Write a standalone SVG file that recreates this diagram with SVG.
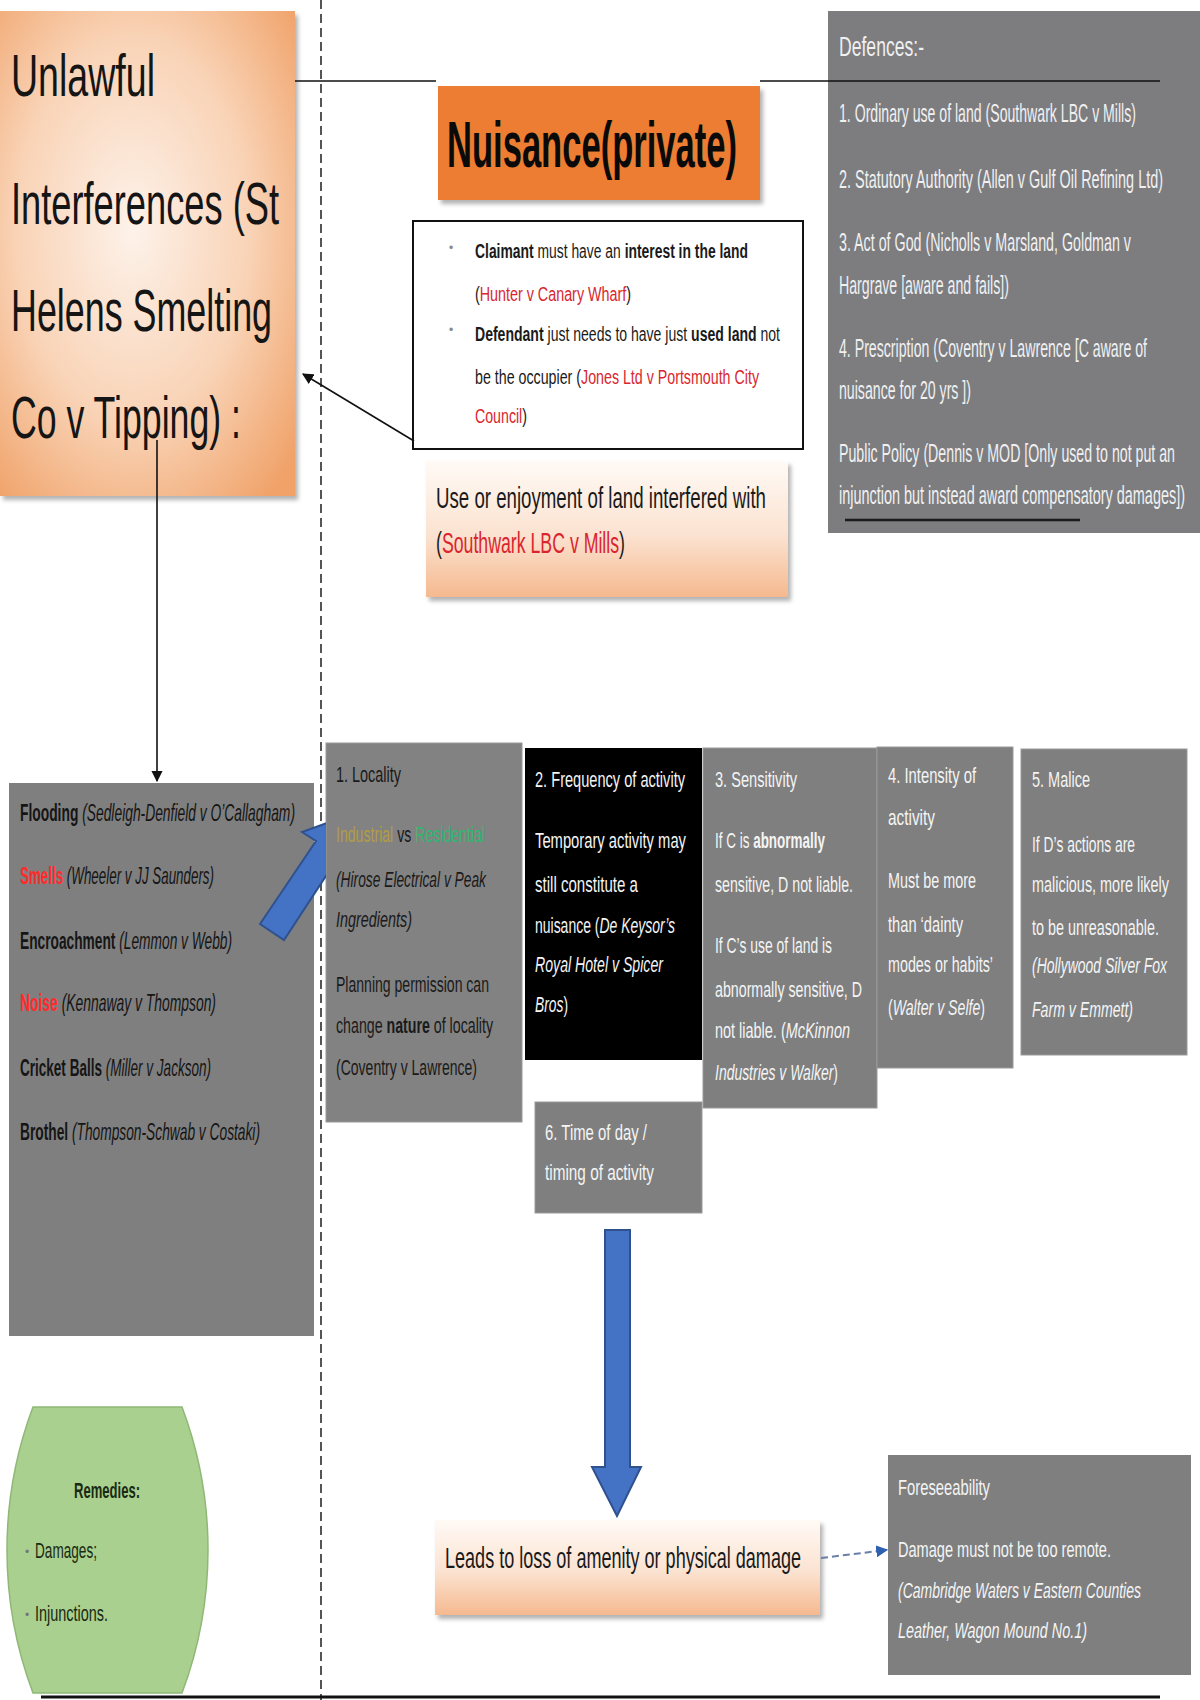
<svg xmlns="http://www.w3.org/2000/svg" width="1200" height="1700" viewBox="0 0 1200 1700">
<style>
text{font-family:"Liberation Sans",Arial,sans-serif;}
.big{font-size:60px;fill:#151515;}
.nui{font-size:64px;font-weight:bold;fill:#0a0a0a;}
.wb{font-size:20px;fill:#1a1a1a;}
.use{font-size:30px;fill:#1a1a1a;}
.def{font-size:26px;fill:#f0f0f0;}
.list{font-size:24px;fill:#151515;}
.dk{font-size:22px;fill:#1a1a1a;}
.wt{font-size:22px;fill:#f4f4f4;}
.rem{font-size:22px;fill:#1a2a12;}
.b{font-weight:bold;}
.i{font-style:italic;}
.red{fill:#d9262e;}
.rd2{fill:#ff2b2b;}
.gray{fill:#7f7f7f;}
.conn{stroke:#111;stroke-width:1.6;fill:none;}
</style>
<defs>
<radialGradient id="gUnl" cx="45%" cy="45%" r="72%">
<stop offset="0" stop-color="#fdf2ea"/>
<stop offset="0.55" stop-color="#f9d3b6"/>
<stop offset="1" stop-color="#f0a269"/>
</radialGradient>
<linearGradient id="gPeach" x1="0" y1="0" x2="0" y2="1">
<stop offset="0" stop-color="#fffaf6"/>
<stop offset="0.55" stop-color="#fbe2d0"/>
<stop offset="1" stop-color="#f5b98f"/>
</linearGradient>
<filter id="sh" x="-5%" y="-5%" width="115%" height="120%">
<feDropShadow dx="3" dy="4" stdDeviation="2" flood-color="#000" flood-opacity="0.3"/>
</filter>
<marker id="ah" viewBox="0 0 10 10" refX="9" refY="5" markerWidth="7" markerHeight="7" orient="auto">
<path d="M0,0 L10,5 L0,10 z" fill="#111"/>
</marker>
<marker id="ahb" viewBox="0 0 10 10" refX="9" refY="5" markerWidth="6" markerHeight="6" orient="auto">
<path d="M0,0 L10,5 L0,10 z" fill="#2f5fb0"/>
</marker>
<clipPath id="leftOfLoc"><rect x="0" y="700" width="326" height="300"/></clipPath>
</defs>
<rect width="1200" height="1700" fill="#ffffff"/>

<g id="unlawful">
<rect x="0" y="11" width="295" height="485" fill="url(#gUnl)" filter="url(#sh)"/>
<text class="big" x="11" y="96" textLength="144" lengthAdjust="spacingAndGlyphs">Unlawful</text>
<text class="big" x="11" y="224" textLength="268" lengthAdjust="spacingAndGlyphs">Interferences (St</text>
<text class="big" x="11" y="331" textLength="261" lengthAdjust="spacingAndGlyphs">Helens Smelting</text>
<text class="big" x="11" y="438" textLength="230" lengthAdjust="spacingAndGlyphs">Co v Tipping) :</text>
</g>

<g id="nuisance">
<rect x="438" y="86" width="322" height="114" fill="#ed7d31" filter="url(#sh)"/>
<text class="nui" x="447" y="167" textLength="290" lengthAdjust="spacingAndGlyphs">Nuisance(private)</text>
</g>

<g id="requirements">
<rect x="413" y="221" width="390" height="228" fill="#ffffff" stroke="#111" stroke-width="2"/>
<text class="wb" x="449" y="252" style="font-size:12px;fill:#888">•</text>
<text class="wb" x="449" y="334" style="font-size:12px;fill:#888">•</text>
<text class="wb" x="475" y="258" textLength="273" lengthAdjust="spacingAndGlyphs"><tspan class="b">Claimant</tspan> must have an <tspan class="b">interest in the land</tspan></text>
<text class="wb" x="475" y="301" textLength="156" lengthAdjust="spacingAndGlyphs">(<tspan class="red">Hunter v Canary Wharf</tspan>)</text>
<text class="wb" x="475" y="341" textLength="305" lengthAdjust="spacingAndGlyphs"><tspan class="b">Defendant</tspan> just needs to have just <tspan class="b">used land</tspan> not</text>
<text class="wb" x="475" y="384" textLength="284" lengthAdjust="spacingAndGlyphs">be the occupier (<tspan class="red">Jones Ltd v Portsmouth City</tspan></text>
<text class="wb" x="475" y="423" textLength="52" lengthAdjust="spacingAndGlyphs"><tspan class="red">Council</tspan>)</text>
</g>

<g id="use-enjoyment">
<rect x="426" y="461" width="362" height="136" fill="url(#gPeach)" filter="url(#sh)"/>
<text class="use" x="436" y="508" textLength="330" lengthAdjust="spacingAndGlyphs">Use or enjoyment of land interfered with</text>
<text class="use" x="436" y="553" textLength="189" lengthAdjust="spacingAndGlyphs">(<tspan class="red">Southwark LBC v Mills</tspan>)</text>
</g>

<g id="defences">
<rect x="828" y="11" width="372" height="522" fill="#7d7d80"/>
<text class="def" x="839" y="56" style="font-size:28px" textLength="85" lengthAdjust="spacingAndGlyphs">Defences:-</text>
<text class="def" x="839" y="122" textLength="297" lengthAdjust="spacingAndGlyphs">1. Ordinary use of land (Southwark LBC v Mills)</text>
<text class="def" x="839" y="188" textLength="324" lengthAdjust="spacingAndGlyphs">2. Statutory Authority (Allen v Gulf Oil Refining Ltd)</text>
<text class="def" x="839" y="251" textLength="292" lengthAdjust="spacingAndGlyphs">3. Act of God (Nicholls v Marsland, Goldman v</text>
<text class="def" x="839" y="294" textLength="170" lengthAdjust="spacingAndGlyphs">Hargrave [aware and fails])</text>
<text class="def" x="839" y="357" textLength="308" lengthAdjust="spacingAndGlyphs">4. Prescription (Coventry v Lawrence [C aware of</text>
<text class="def" x="839" y="399" textLength="132" lengthAdjust="spacingAndGlyphs">nuisance for 20 yrs ])</text>
<text class="def" x="839" y="462" textLength="336" lengthAdjust="spacingAndGlyphs">Public Policy (Dennis v MOD [Only used to not put an</text>
<text class="def" x="839" y="504" textLength="346" lengthAdjust="spacingAndGlyphs">injunction but instead award compensatory damages])</text>
<line x1="845" y1="520" x2="1080" y2="520" stroke="#1a1a1a" stroke-width="2.5"/>
</g>

<g id="interferences-list">
<rect x="9" y="783" width="305" height="553" fill="#7f7f7f"/>
<text class="list" x="20" y="821" textLength="275" lengthAdjust="spacingAndGlyphs"><tspan class="b">Flooding</tspan> <tspan class="i">(Sedleigh-Denfield v O’Callagham)</tspan></text>
<text class="list" x="20" y="884" textLength="194" lengthAdjust="spacingAndGlyphs"><tspan class="b rd2">Smells</tspan> <tspan class="i">(Wheeler v JJ Saunders)</tspan></text>
<text class="list" x="20" y="949" textLength="212" lengthAdjust="spacingAndGlyphs"><tspan class="b">Encroachment</tspan> <tspan class="i">(Lemmon v Webb)</tspan></text>
<text class="list" x="20" y="1011" textLength="196" lengthAdjust="spacingAndGlyphs"><tspan class="b rd2">Noise</tspan> <tspan class="i">(Kennaway v Thompson)</tspan></text>
<text class="list" x="20" y="1076" textLength="191" lengthAdjust="spacingAndGlyphs"><tspan class="b">Cricket Balls</tspan> <tspan class="i">(Miller v Jackson)</tspan></text>
<text class="list" x="20" y="1140" textLength="240" lengthAdjust="spacingAndGlyphs"><tspan class="b">Brothel</tspan> <tspan class="i">(Thompson-Schwab v Costaki)</tspan></text>
</g>

<g id="locality">
<rect x="326" y="743" width="196" height="379" fill="#828282" stroke="#9a9a9a" stroke-width="1"/>
<text class="dk" x="336" y="782" textLength="65" lengthAdjust="spacingAndGlyphs">1. Locality</text>
<text class="dk" x="336" y="842" textLength="149" lengthAdjust="spacingAndGlyphs"><tspan style="fill:#b29d45">Industrial</tspan> vs <tspan style="fill:#2fb872">Residential</tspan></text>
<text class="dk i" x="336" y="887" textLength="150" lengthAdjust="spacingAndGlyphs">(Hirose Electrical v Peak</text>
<text class="dk i" x="336" y="927" textLength="76" lengthAdjust="spacingAndGlyphs">Ingredients)</text>
<text class="dk" x="336" y="992" textLength="153" lengthAdjust="spacingAndGlyphs">Planning permission can</text>
<text class="dk" x="336" y="1033" textLength="157" lengthAdjust="spacingAndGlyphs">change <tspan class="b">nature</tspan> of locality</text>
<text class="dk" x="336" y="1075" textLength="141" lengthAdjust="spacingAndGlyphs">(Coventry v Lawrence)</text>
</g>

<g id="frequency">
<rect x="525" y="748" width="177" height="312" fill="#000000"/>
<text class="wt" x="535" y="787" textLength="150" lengthAdjust="spacingAndGlyphs">2. Frequency of activity</text>
<text class="wt" x="535" y="848" textLength="151" lengthAdjust="spacingAndGlyphs">Temporary activity may</text>
<text class="wt" x="535" y="892" textLength="103" lengthAdjust="spacingAndGlyphs">still constitute a</text>
<text class="wt" x="535" y="933" textLength="140" lengthAdjust="spacingAndGlyphs">nuisance (<tspan class="i">De Keysor’s</tspan></text>
<text class="wt i" x="535" y="972" textLength="128" lengthAdjust="spacingAndGlyphs">Royal Hotel v Spicer</text>
<text class="wt" x="535" y="1012" textLength="33" lengthAdjust="spacingAndGlyphs"><tspan class="i">Bros</tspan>)</text>
</g>

<g id="time-of-day">
<rect x="535" y="1102" width="167" height="111" fill="#7f7f7f" stroke="#9a9a9a" stroke-width="1"/>
<text class="wt" x="545" y="1140" textLength="102" lengthAdjust="spacingAndGlyphs">6. Time of day /</text>
<text class="wt" x="545" y="1180" textLength="109" lengthAdjust="spacingAndGlyphs">timing of activity</text>
</g>

<g id="sensitivity">
<rect x="703" y="748" width="174" height="360" fill="#7f7f7f" stroke="#9a9a9a" stroke-width="1"/>
<text class="wt" x="715" y="787" textLength="82" lengthAdjust="spacingAndGlyphs">3. Sensitivity</text>
<text class="wt" x="715" y="848" textLength="110" lengthAdjust="spacingAndGlyphs">If C is <tspan class="b">abnormally</tspan></text>
<text class="wt" x="715" y="892" textLength="138" lengthAdjust="spacingAndGlyphs">sensitive, D not liable.</text>
<text class="wt" x="715" y="953" textLength="117" lengthAdjust="spacingAndGlyphs">If C’s use of land is</text>
<text class="wt" x="715" y="997" textLength="147" lengthAdjust="spacingAndGlyphs">abnormally sensitive, D</text>
<text class="wt" x="715" y="1038" textLength="135" lengthAdjust="spacingAndGlyphs">not liable. (<tspan class="i">McKinnon</tspan></text>
<text class="wt" x="715" y="1080" textLength="123" lengthAdjust="spacingAndGlyphs"><tspan class="i">Industries v Walker</tspan>)</text>
</g>

<g id="intensity">
<rect x="877" y="747" width="136" height="321" fill="#7f7f7f" stroke="#9a9a9a" stroke-width="1"/>
<text class="wt" x="888" y="783" textLength="88" lengthAdjust="spacingAndGlyphs">4. Intensity of</text>
<text class="wt" x="888" y="825" textLength="47" lengthAdjust="spacingAndGlyphs">activity</text>
<text class="wt" x="888" y="888" textLength="88" lengthAdjust="spacingAndGlyphs">Must be more</text>
<text class="wt" x="888" y="932" textLength="75" lengthAdjust="spacingAndGlyphs">than ‘dainty</text>
<text class="wt" x="888" y="972" textLength="105" lengthAdjust="spacingAndGlyphs">modes or habits’</text>
<text class="wt" x="888" y="1015" textLength="97" lengthAdjust="spacingAndGlyphs">(<tspan class="i">Walter v Selfe</tspan>)</text>
</g>

<g id="malice">
<rect x="1021" y="749" width="166" height="306" fill="#7f7f7f" stroke="#9a9a9a" stroke-width="1"/>
<text class="wt" x="1032" y="787" textLength="58" lengthAdjust="spacingAndGlyphs">5. Malice</text>
<text class="wt" x="1032" y="852" textLength="103" lengthAdjust="spacingAndGlyphs">If D’s actions are</text>
<text class="wt" x="1032" y="892" textLength="137" lengthAdjust="spacingAndGlyphs">malicious, more likely</text>
<text class="wt" x="1032" y="935" textLength="127" lengthAdjust="spacingAndGlyphs">to be unreasonable.</text>
<text class="wt i" x="1032" y="973" textLength="135" lengthAdjust="spacingAndGlyphs">(Hollywood Silver Fox</text>
<text class="wt i" x="1032" y="1017" textLength="101" lengthAdjust="spacingAndGlyphs">Farm v Emmett)</text>
</g>

<g id="loss">
<rect x="435" y="1520" width="385" height="95" fill="url(#gPeach)" filter="url(#sh)"/>
<text class="use" x="445" y="1568" style="font-size:29px" textLength="356" lengthAdjust="spacingAndGlyphs">Leads to loss of amenity or physical damage</text>
</g>

<g id="foreseeability">
<rect x="888" y="1455" width="303" height="220" fill="#7f7f7f"/>
<text class="wt" x="898" y="1495" textLength="92" lengthAdjust="spacingAndGlyphs">Foreseeability</text>
<text class="wt" x="898" y="1557" textLength="213" lengthAdjust="spacingAndGlyphs">Damage must not be too remote.</text>
<text class="wt i" x="898" y="1598" textLength="243" lengthAdjust="spacingAndGlyphs">(Cambridge Waters v Eastern Counties</text>
<text class="wt i" x="898" y="1638" textLength="189" lengthAdjust="spacingAndGlyphs">Leather, Wagon Mound No.1)</text>
</g>

<g id="remedies">
<path d="M33,1407 L182,1407 A406,406 0 0 1 182,1693 L33,1693 A406,406 0 0 1 33,1407 Z" fill="#a9d08e" stroke="#8fb878" stroke-width="1.5"/>
<text class="rem b" x="74" y="1498" textLength="66" lengthAdjust="spacingAndGlyphs">Remedies:</text>
<text class="rem" x="25" y="1556" style="font-size:12px;fill:#777">•</text>
<text class="rem" x="35" y="1558" textLength="62" lengthAdjust="spacingAndGlyphs">Damages;</text>
<text class="rem" x="25" y="1619" style="font-size:12px;fill:#777">•</text>
<text class="rem" x="35" y="1621" textLength="73" lengthAdjust="spacingAndGlyphs">Injunctions.</text>
</g>

<g id="connectors">
<line x1="321" y1="0" x2="321" y2="1700" stroke="#555" stroke-width="2" stroke-dasharray="9,5"/>
<line class="conn" x1="295" y1="81" x2="436" y2="81"/>
<line class="conn" x1="760" y1="81" x2="1160" y2="81"/>
<line class="conn" x1="414" y1="441" x2="303" y2="374" marker-end="url(#ah)"/>
<line class="conn" x1="157" y1="440" x2="157" y2="781" marker-end="url(#ah)"/>
<polygon clip-path="url(#leftOfLoc)" points="260,924 316,841 302,832 349,815 352,865 339,856 284,940" fill="#4472c4" stroke="#2f528f" stroke-width="2" stroke-linejoin="miter"/>
<polygon points="605,1230 630,1230 630,1467 641,1467 617,1516 592,1467 605,1467" fill="#4472c4" stroke="#2f528f" stroke-width="2"/>
<line x1="821" y1="1558" x2="887" y2="1550" stroke="#6a7fa8" stroke-width="2" stroke-dasharray="7,4" marker-end="url(#ahb)"/>
<line x1="41" y1="1697" x2="1160" y2="1697" stroke="#111" stroke-width="3"/>
</g>
</svg>
